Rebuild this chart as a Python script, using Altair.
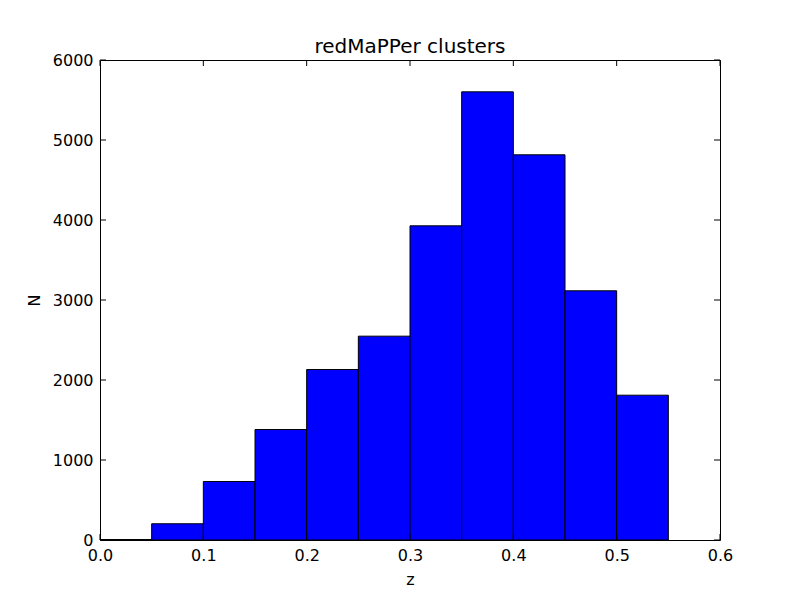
import altair as alt
import pandas as pd

bin_start = [0.00, 0.05, 0.10, 0.15, 0.20, 0.25, 0.30, 0.35, 0.40, 0.45, 0.50]
bin_end = [0.05, 0.10, 0.15, 0.20, 0.25, 0.30, 0.35, 0.40, 0.45, 0.50, 0.55]
counts = [6, 203, 731, 1381, 2131, 2548, 3927, 5602, 4815, 3115, 1810]

x_ticks = [0.0, 0.1, 0.2, 0.3, 0.4, 0.5, 0.6]
y_ticks = [0, 1000, 2000, 3000, 4000, 5000, 6000]

W, H = 620, 480
FONT = "DejaVu Sans"

bars_df = pd.DataFrame({"start": bin_start, "end": bin_end, "count": counts, "zero": [0] * len(counts)})
xt_df = pd.DataFrame({"v": x_ticks})
yt_df = pd.DataFrame({"v": y_ticks})

xscale = alt.Scale(domain=[0, 0.6], nice=False, zero=False)
yscale = alt.Scale(domain=[0, 6000], nice=False)

xaxis = alt.Axis(values=x_ticks, format=".1f", title="z", labelPadding=7, titlePadding=8,
                 labelFlush=False, grid=False, domain=False, ticks=False, tickSize=0)
yaxis = alt.Axis(values=y_ticks, format="d", title="N", labelPadding=7, titlePadding=10,
                 labelFlush=False, grid=False, domain=False, ticks=False, tickSize=0)

bars = alt.Chart(bars_df).mark_rect(color="#0000ff", stroke="black", strokeWidth=1).encode(
    x=alt.X("start:Q", scale=xscale, axis=xaxis),
    x2="end:Q",
    y=alt.Y("count:Q", scale=yscale, axis=yaxis),
    y2="zero:Q",
)

tick_len = 6
xt_bottom = alt.Chart(xt_df).mark_rule(color="black", strokeWidth=1).encode(
    x=alt.X("v:Q", scale=xscale, axis=xaxis), y=alt.value(H), y2=alt.value(H - tick_len))
xt_top = alt.Chart(xt_df).mark_rule(color="black", strokeWidth=1).encode(
    x=alt.X("v:Q", scale=xscale, axis=xaxis), y=alt.value(0), y2=alt.value(tick_len))
yt_left = alt.Chart(yt_df).mark_rule(color="black", strokeWidth=1).encode(
    y=alt.Y("v:Q", scale=yscale, axis=yaxis), x=alt.value(0), x2=alt.value(tick_len))
yt_right = alt.Chart(yt_df).mark_rule(color="black", strokeWidth=1).encode(
    y=alt.Y("v:Q", scale=yscale, axis=yaxis), x=alt.value(W), x2=alt.value(W - tick_len))

chart = alt.layer(bars, xt_bottom, xt_top, yt_left, yt_right).properties(
    width=W, height=H,
    title=alt.TitleParams("redMaPPer clusters", fontSize=20, font=FONT, fontWeight="normal",
                          color="black", offset=-5),
    autosize=alt.AutoSizeParams(type="none"),
    padding={"left": 92, "top": 52, "right": 72, "bottom": 52},
    background="white",
).configure_view(
    stroke="black", strokeWidth=1
).configure_axis(
    grid=False, domain=False, ticks=False, tickSize=0, labelFlush=False,
    labelFont=FONT, labelFontSize=16, labelColor="black",
    titleFont=FONT, titleFontSize=16, titleFontWeight="normal", titleColor="black",
)

chart.save("out.html", embed_options={"renderer": "svg", "actions": False})
